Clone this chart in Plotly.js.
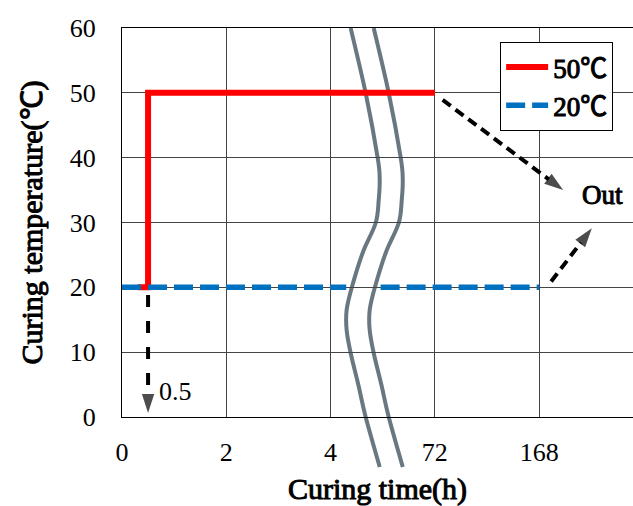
<!DOCTYPE html>
<html>
<head>
<meta charset="utf-8">
<script src="https://cdn.plot.ly/plotly-3.0.1.min.js"></script>
<style>
body{margin:0;padding:0;background:#fff;}
.xtitle, .ytitle, .legendtext, .fakebold text { stroke:#000; stroke-width:1px; paint-order: stroke fill; }
</style>
</head>
<body>
<div id="chart"></div>
<script>
// ---- data ----
const tickPositions = [0, 2, 4, 6, 8];
const tickLabels = ['0', '2', '4', '72', '168'];
const series50Name = '50℃';
const series50X = [0.3, 0.5, 0.5, 6];
const series50Y = [20, 20, 50, 50];
const series20Name = '20℃';
const series20X = [0, 4.3, null, 4.96, 8];
const series20Y = [20, 20, null, 20, 20];
// arrows (start -> tip)
const arrowDownX = [0.5, 0.5];
const arrowDownY = [18.8, 0.6];
const arrowOut1X = [6.15, 8.46];
const arrowOut1Y = [48.9, 35.0];
const arrowOut2X = [8.23, 9.01];
const arrowOut2Y = [20.9, 29.1];
// axis break curve (left one), in axis units / degrees
const breakX = [4.385, 4.673, 4.904, 4.942, 4.923, 4.865, 4.615, 4.404, 4.308, 4.308, 4.385, 4.538, 4.673, 4.942];
const breakY = [60, 49.97, 39.95, 36.55, 33.47, 29.92, 25.3, 19.9, 16.5, 13.42, 9.87, 4.78, 0, -7.71];
const breakGap = 0.442;
const xRange = [0, 9.8];
const yRange = [0, 60];

const FONT = 'Liberation Serif';
const CJK = '<span style="font-family:Noto Sans CJK JP">℃</span>';
const legendName = s => s.replace('℃', CJK);

function splinePath(xs, ys) {
  const pts = xs.map((x, i) => [x, (ys[i] - yRange[0]) / (yRange[1] - yRange[0])]);
  let d = 'M' + pts[0][0] + ',' + pts[0][1];
  for (let i = 0; i < pts.length - 1; i++) {
    const p0 = pts[i - 1] || pts[i], p1 = pts[i], p2 = pts[i + 1], p3 = pts[i + 2] || pts[i + 1];
    const c1 = [p1[0] + (p2[0] - p0[0]) / 6, p1[1] + (p2[1] - p0[1]) / 6];
    const c2 = [p2[0] - (p3[0] - p1[0]) / 6, p2[1] - (p3[1] - p1[1]) / 6];
    d += ' C' + c1[0] + ',' + c1[1] + ' ' + c2[0] + ',' + c2[1] + ' ' + p2[0] + ',' + p2[1];
  }
  return d;
}

function arrowTrace(xs, ys, dash) {
  return {
    x: xs, y: ys, type: 'scatter', mode: 'lines+markers', showlegend: false, hoverinfo: 'skip',
    line: {color: '#000', width: 4, dash: dash},
    marker: {symbol: 'arrow', size: [0, 20], angleref: 'previous', color: '#000', line: {width: 0}}
  };
}

const traces = [
  {x: series50X, y: series50Y, name: legendName(series50Name), type: 'scatter', mode: 'lines',
   line: {color: '#ff0000', width: 6}},
  {x: series20X, y: series20Y, name: legendName(series20Name), type: 'scatter', mode: 'lines',
   line: {color: '#0070c0', width: 5.5, dash: '19px,7px'}},
  arrowTrace(arrowDownX, arrowDownY, '12px,14px'),
  arrowTrace(arrowOut1X, arrowOut1Y, '10px,6px'),
  arrowTrace(arrowOut2X, arrowOut2Y, '10px,6px')
];

const curveStyle = {color: '#687880', width: 4};
const shapes = [
  {type: 'path', xref: 'x', yref: 'paper', layer: 'between', path: splinePath(breakX, breakY), line: curveStyle},
  {type: 'path', xref: 'x', yref: 'paper', layer: 'between', path: splinePath(breakX.map(v => v + breakGap), breakY), line: curveStyle}
];

const layout = {
  width: 633, height: 506,
  margin: {l: 122, r: 0, t: 28, b: 89},
  paper_bgcolor: '#fff', plot_bgcolor: '#fff',
  font: {family: FONT, size: 26, color: '#000'},
  showlegend: true,
  legend: {x: 0.74, y: 0.964, xanchor: 'left', yanchor: 'top', bgcolor: '#fff',
           bordercolor: '#000', borderwidth: 1, font: {family: FONT, size: 27, color: '#000'},
           itemwidth: 42, tracegroupgap: 0},
  xaxis: {
    range: xRange, tickmode: 'array', tickvals: tickPositions, ticktext: tickLabels,
    showgrid: true, gridcolor: '#444', gridwidth: 1, zeroline: false,
    showline: true, linecolor: '#000', linewidth: 1, mirror: true, ticks: '',
    ticklabelstandoff: 12, tickfont: {family: FONT, size: 26, color: '#000'},
    title: {text: 'Curing time(h)', font: {family: FONT, size: 30, color: '#000'}, standoff: 12}
  },
  yaxis: {
    range: yRange, dtick: 10, tick0: 0,
    showgrid: true, gridcolor: '#444', gridwidth: 1, zeroline: false,
    showline: true, linecolor: '#000', linewidth: 1, ticks: '',
    ticklabelstandoff: 20, tickfont: {family: FONT, size: 26, color: '#000'},
    title: {text: 'Curing temperature(℃)', font: {family: FONT, size: 30, color: '#000'}, standoff: 18}
  },
  shapes: shapes,
  annotations: [
    {x: 9.21, y: 34.2, xref: 'x', yref: 'y', text: 'Out', showarrow: false,
     font: {family: FONT, size: 27, color: '#000'}},
    {x: 0.67, y: 3.9, xref: 'x', yref: 'y', text: '0.5', showarrow: false, xanchor: 'left',
     font: {family: FONT, size: 26, color: '#000'}}
  ]
};

Plotly.newPlot('chart', traces, layout, {displayModeBar: false}).then(gd => {
  const ann = gd.querySelectorAll('.annotation');
  if (ann[0]) ann[0].classList.add('fakebold');
});
</script>
</body>
</html>
